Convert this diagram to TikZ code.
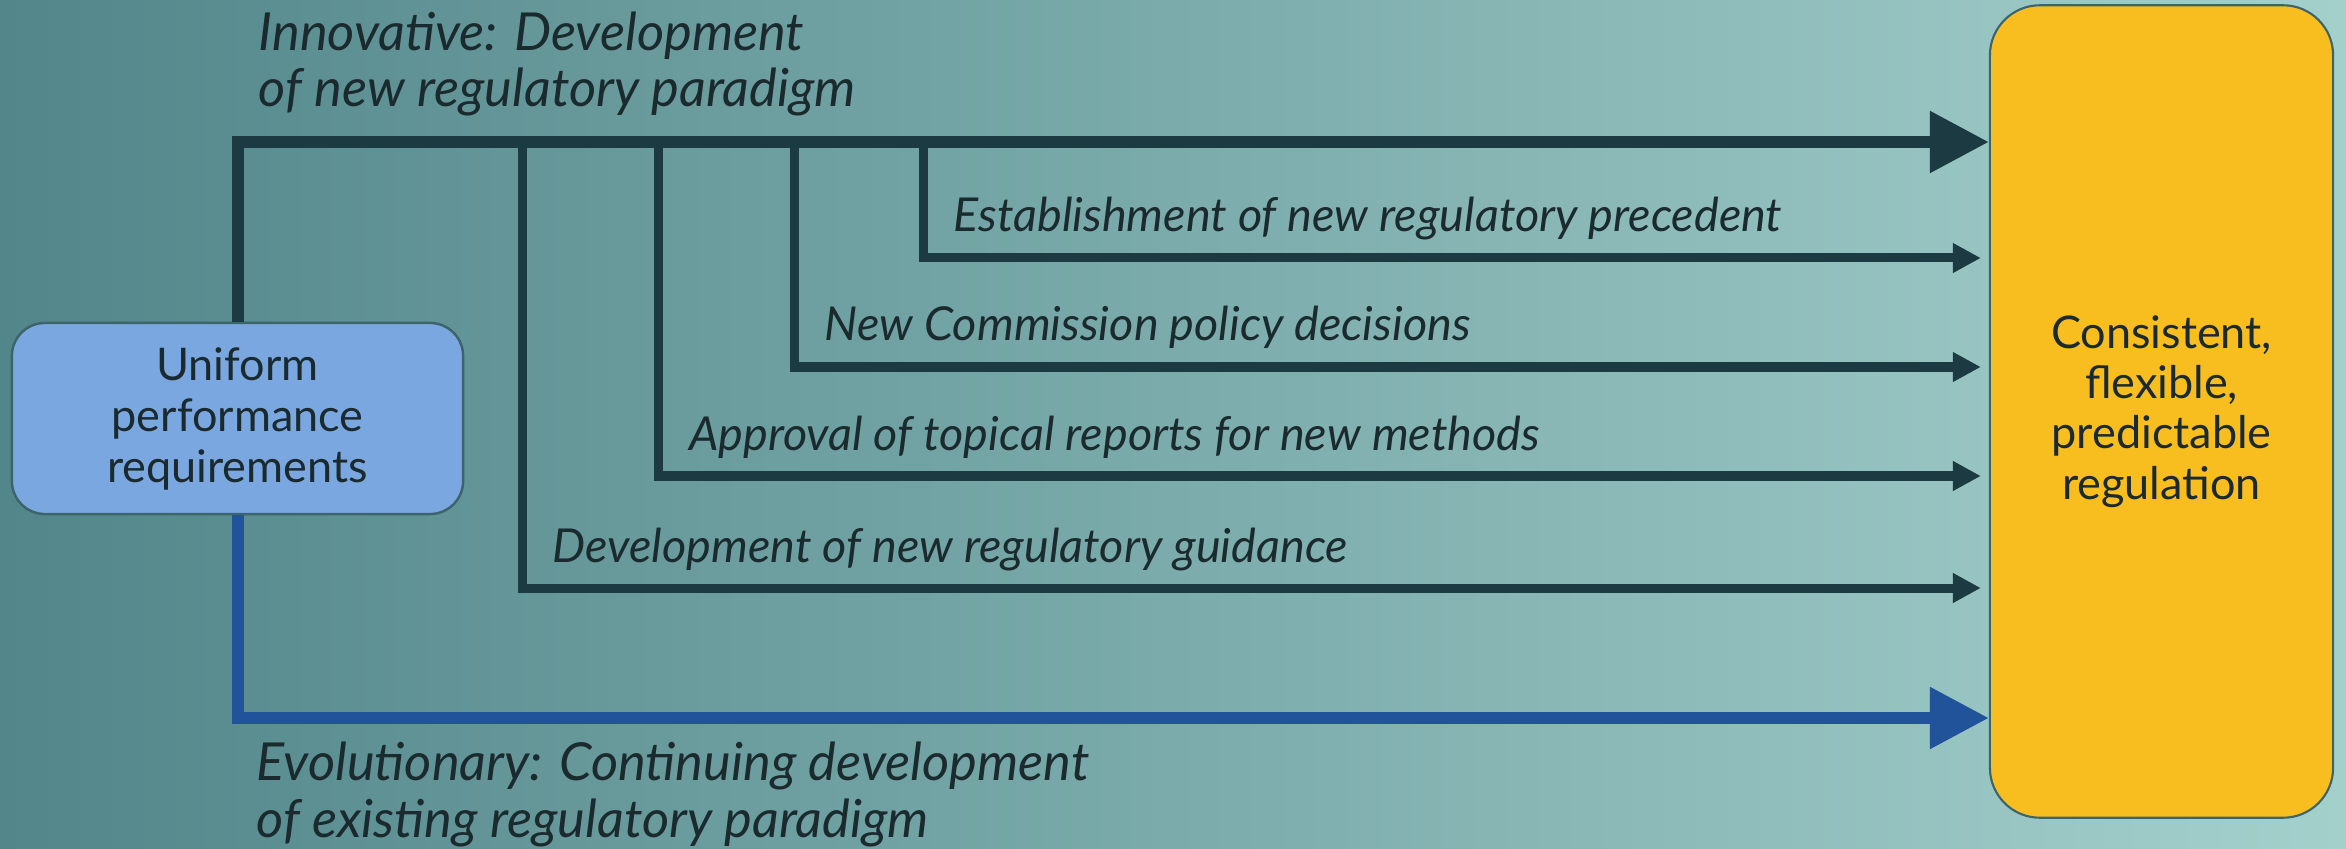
\documentclass[tikz,border=0pt]{standalone}
\usepackage{fontspec}
\setmainfont{Lato}
\usetikzlibrary{arrows.meta,positioning}
\definecolor{bgleft}{HTML}{52868A}
\definecolor{bgright}{HTML}{A4D0CC}
\definecolor{linedark}{HTML}{1B3A42}
\definecolor{evoblue}{HTML}{21539A}
\definecolor{reqfill}{HTML}{7BA7E1}
\definecolor{goalfill}{HTML}{F8BE20}
\definecolor{boxedge}{HTML}{3C646B}
\definecolor{textdark}{HTML}{1A2A2E}
\tikzset{
	reqbox/.style={rectangle, draw=boxedge, line width=0.7pt, rounded corners=0.33cm, fill=reqfill,
		minimum width=4.51cm, minimum height=1.91cm, align=center, text=textdark,
		font=\fontsize{12.8}{14.5}\selectfont, inner sep=0pt},
	goalbox/.style={rectangle, draw=boxedge, line width=0.6pt, rounded corners=0.5cm, fill=goalfill,
		minimum width=3.43cm, minimum height=8.12cm, align=center, text=textdark,
		font=\fontsize{12.8}{14.3}\selectfont, inner sep=0pt},
	mainarr/.style={-{Triangle[length=0.59cm, width=0.59cm]}, line width=0.12cm, draw=linedark},
	subarr/.style={-{Triangle[length=0.28cm, width=0.28cm]}, line width=0.09cm, draw=linedark, shorten >=0.08cm},
	evoarr/.style={mainarr, draw=evoblue},
	pathlabel/.style={font=\fontsize{13.3}{16.2}\selectfont\itshape, text=textdark, align=left,
		inner sep=0pt, anchor=base west},
	pathhead/.style={pathlabel, font=\fontsize{14.9}{16.2}\selectfont\itshape}
}
\begin{document}
\begin{tikzpicture}[x=0.01cm, y=-0.01cm]
	\useasboundingbox (0,0) rectangle (2346,849);
	\fill[left color=bgleft, right color=bgright] (0,0) rectangle (2346,849);
	\node[reqbox] (req) at (237.5,418.5) {Uniform\\performance\\requirements};
	\node[goalbox] (goal) at (2161.5,411.5) {Consistent,\\flexible,\\predictable\\regulation};
	% innovative path with its branches
	\coordinate (top) at (req.north |- 0,142);
	\draw[mainarr] (req.north) -- (top) -- (goal.west |- top);
	\foreach \bx/\by/\nm/\txt in {923/258/prec/{Establishment of new regulatory precedent},
		794/367/pol/{New Commission policy decisions},
		658.5/476/topi/{Approval of topical reports for new methods},
		522/588/guid/{Development of new regulatory guidance}} {
		\coordinate (\nm) at (\bx,142);
		\draw[subarr] (\nm) |- (goal.west |- 0,\by);
		\node[pathlabel] (\nm-lbl) at (\bx+30,\by-26) {\txt};
	}
	% evolutionary path
	\draw[evoarr] (req.south) |- (goal.west |- 0,718);
	\node[pathhead] (innov) at (258,107) {Innovative: Development\\of new regulatory paradigm};
	\node[pathhead] (evo) at (256,837) {Evolutionary: Continuing development\\of existing regulatory paradigm};
\end{tikzpicture}
\end{document}
